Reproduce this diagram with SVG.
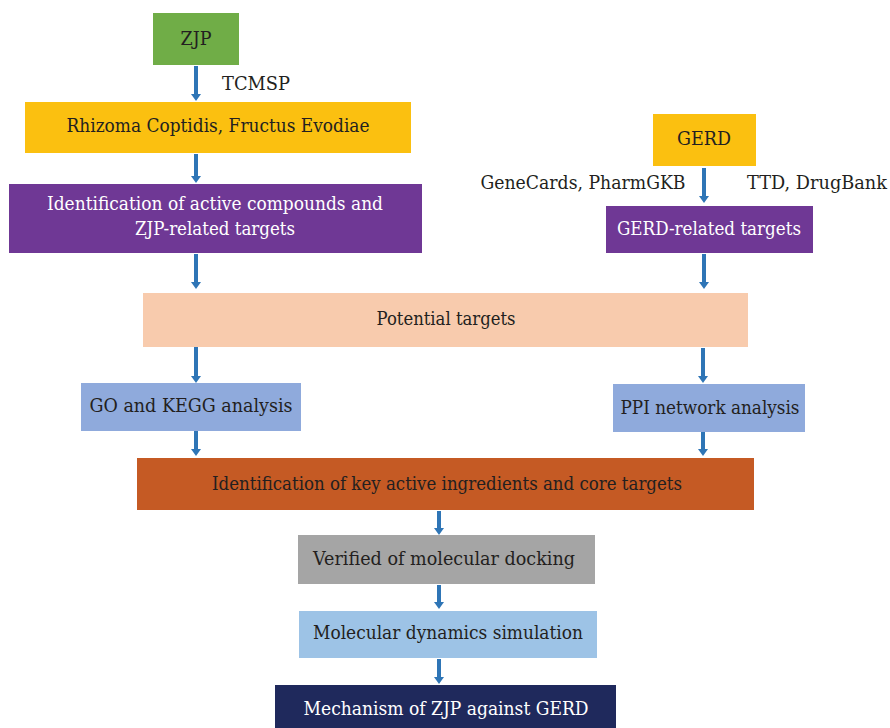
<svg xmlns="http://www.w3.org/2000/svg" width="890" height="728" viewBox="0 0 890 728">
<style>
text{font-family:"DejaVu Serif","Liberation Serif",serif;font-size:18px;fill:#231f20;text-anchor:middle}
.w{fill:#ffffff}
.c{stroke:#2E75B6;stroke-width:4;fill:none}
</style>
<defs>
<marker id="a" markerUnits="userSpaceOnUse" markerWidth="7" markerHeight="10" refX="1" refY="5" orient="auto" viewBox="0 0 7 10">
<path d="M0,0 L7,5 L0,10 Z" fill="#2E75B6"/>
</marker>
</defs>
<rect width="890" height="728" fill="#ffffff"/>
<g id="connectors">
<line class="c" x1="196" y1="66" x2="196" y2="95" marker-end="url(#a)"/>
<line class="c" x1="196" y1="154" x2="196" y2="177" marker-end="url(#a)"/>
<line class="c" x1="196" y1="254" x2="196" y2="283" marker-end="url(#a)"/>
<line class="c" x1="704" y1="168" x2="704" y2="197" marker-end="url(#a)"/>
<line class="c" x1="704" y1="254" x2="704" y2="283" marker-end="url(#a)"/>
<line class="c" x1="196" y1="347" x2="196" y2="377" marker-end="url(#a)"/>
<line class="c" x1="703" y1="348" x2="703" y2="377" marker-end="url(#a)"/>
<line class="c" x1="196" y1="431" x2="196" y2="450" marker-end="url(#a)"/>
<line class="c" x1="703" y1="432" x2="703" y2="450" marker-end="url(#a)"/>
<line class="c" x1="439" y1="511" x2="439" y2="529" marker-end="url(#a)"/>
<line class="c" x1="439" y1="585" x2="439" y2="603" marker-end="url(#a)"/>
<line class="c" x1="439" y1="659" x2="439" y2="678" marker-end="url(#a)"/>
<text x="256" y="90" textLength="68" lengthAdjust="spacingAndGlyphs">TCMSP</text>
<text x="583" y="189" textLength="205" lengthAdjust="spacingAndGlyphs">GeneCards, PharmGKB</text>
<text x="817" y="189" textLength="140" lengthAdjust="spacingAndGlyphs">TTD, DrugBank</text>
</g>
<g id="zjp"><rect x="153" y="13" width="86" height="52" fill="#70AD47"/><text x="196" y="45" textLength="31" lengthAdjust="spacingAndGlyphs">ZJP</text></g>
<g id="rhizoma"><rect x="25" y="102" width="386" height="51" fill="#FBC010"/><text x="218" y="132" textLength="303" lengthAdjust="spacingAndGlyphs">Rhizoma Coptidis, Fructus Evodiae</text></g>
<g id="active"><rect x="9" y="184" width="413" height="69" fill="#6F3895"/><text class="w" x="215" y="210" textLength="336" lengthAdjust="spacingAndGlyphs">Identification of active compounds and</text><text class="w" x="215" y="235" textLength="160" lengthAdjust="spacingAndGlyphs">ZJP-related targets</text></g>
<g id="gerd"><rect x="653" y="114" width="103" height="52" fill="#FBC010"/><text x="704" y="145" textLength="54" lengthAdjust="spacingAndGlyphs">GERD</text></g>
<g id="gerdtargets"><rect x="606" y="206" width="207" height="47" fill="#6F3895"/><text class="w" x="709" y="235" textLength="184" lengthAdjust="spacingAndGlyphs">GERD-related targets</text></g>
<g id="potential"><rect x="143" y="293" width="605" height="54" fill="#F8CBAD"/><text x="446" y="325" textLength="139" lengthAdjust="spacingAndGlyphs">Potential targets</text></g>
<g id="go"><rect x="81" y="383" width="220" height="48" fill="#8FAADC"/><text x="191" y="412" textLength="203" lengthAdjust="spacingAndGlyphs">GO and KEGG analysis</text></g>
<g id="ppi"><rect x="613" y="384" width="192" height="48" fill="#8FAADC"/><text x="710" y="414" textLength="179" lengthAdjust="spacingAndGlyphs">PPI network analysis</text></g>
<g id="key"><rect x="137" y="458" width="617" height="52" fill="#C55A24"/><text x="447" y="490" textLength="470" lengthAdjust="spacingAndGlyphs">Identification of key active ingredients and core targets</text></g>
<g id="docking"><rect x="298" y="535" width="297" height="49" fill="#A5A5A5"/><text x="444" y="565" textLength="262" lengthAdjust="spacingAndGlyphs">Verified of molecular docking</text></g>
<g id="md"><rect x="299" y="611" width="298" height="47" fill="#9DC3E6"/><text x="448" y="639" textLength="270" lengthAdjust="spacingAndGlyphs">Molecular dynamics simulation</text></g>
<g id="mechanism"><rect x="275" y="685" width="341" height="43" fill="#1F295C"/><text class="w" x="446" y="715" textLength="285" lengthAdjust="spacingAndGlyphs">Mechanism of ZJP against GERD</text></g>
</svg>
